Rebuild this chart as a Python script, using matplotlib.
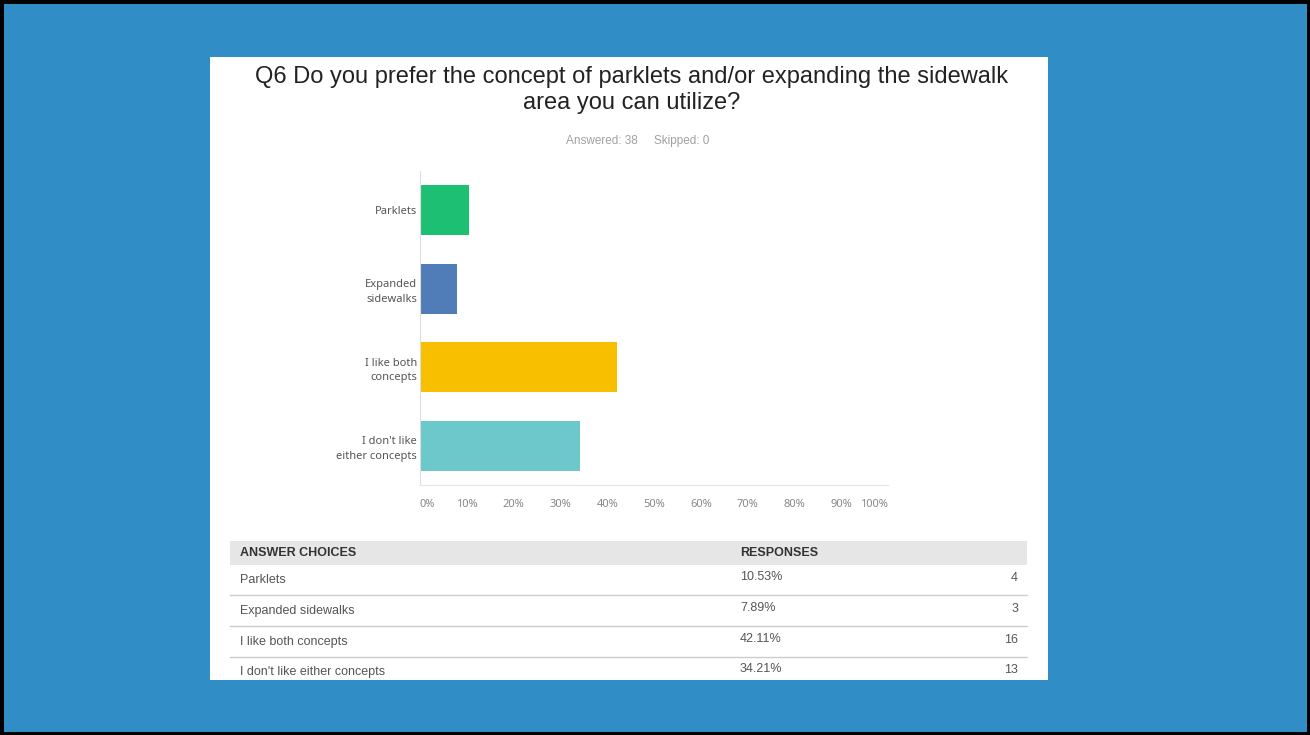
import matplotlib
matplotlib.use('Agg')
import matplotlib.pyplot as plt
from matplotlib.patches import Rectangle
from matplotlib.lines import Line2D

categories = ['Parklets', 'Expanded\nsidewalks', 'I like both\nconcepts', "I don't like\neither concepts"]
table_names = ['Parklets', 'Expanded sidewalks', 'I like both concepts', "I don't like either concepts"]
percents = [10.53, 7.89, 42.11, 34.21]
counts = [4, 3, 16, 13]
colors = ['#1DBF73', '#507CB8', '#F8BF00', '#6CC8CB']
xticks = [0, 10, 20, 30, 40, 50, 60, 70, 80, 90, 100]

W, H = 1310, 735
fig = plt.figure(figsize=(W / 100, H / 100), dpi=100)
fig.patch.set_facecolor('#318DC6')

def px(x, y):
    # pixel (top-left origin) -> figure fraction
    return x / W, 1 - y / H

# black slide border
fig.patches.append(Rectangle((0, 0), 1, 1, transform=fig.transFigure,
                             fill=False, edgecolor='black', linewidth=5, zorder=0))
# white screenshot panel
x0, y0 = px(210, 680)
fig.patches.append(Rectangle((x0, y0), 838 / W, 623 / H, transform=fig.transFigure,
                             facecolor='white', edgecolor='none', zorder=0))

sans = ['Liberation Sans', 'DejaVu Sans']
chartfont = ['Noto Sans', 'DejaVu Sans']

fig.text(*px(632, 90), 'Q6 Do you prefer the concept of parklets and/or expanding the sidewalk\narea you can utilize?',
         ha='center', va='center', fontsize=17, family=sans, color='#222222', linespacing=1.25)
fig.text(*px(638, 141), 'Answered: 38     Skipped: 0', ha='center', va='center',
         fontsize=8.5, family=sans, color='#a0a0a0')

# bar chart
l, b = px(420, 485)
ax = fig.add_axes([l, b, 468 / W, 314 / H])
ax.set_zorder(3)
ax.set_facecolor('white')
ypos = list(range(len(categories)))
ax.barh(ypos, percents, height=0.64, color=colors)
ax.set_xlim(0, 100)
ax.set_ylim(3.5, -0.5)
ax.set_yticks(ypos)
ax.set_yticklabels(categories, fontsize=8, color='#555555', family=chartfont, linespacing=1.45)
ax.set_xticks(xticks)
ax.set_xticklabels([f'{t}%' for t in xticks], fontsize=8, color='#888888', family=chartfont)
xl = ax.get_xticklabels()
xl[0].set_ha('left')
xl[-1].set_ha('right')
ax.tick_params(length=0, pad=10, axis='x')
ax.tick_params(length=0, pad=2, axis='y')
for s in ['top', 'right']:
    ax.spines[s].set_visible(False)
ax.spines['left'].set_color('#dddddd')
ax.spines['bottom'].set_color('#e4e4e4')

# table below
hx, hy = px(230, 565)
fig.patches.append(Rectangle((hx, hy), 797 / W, 24 / H, transform=fig.transFigure,
                             facecolor='#e6e6e6', edgecolor='none', zorder=1))
fig.text(*px(240, 553), 'ANSWER CHOICES', ha='left', va='center', fontsize=9,
         family=sans, color='#333333', weight='bold')
fig.text(*px(740, 553), 'RESPONSES', ha='left', va='center', fontsize=9,
         family=sans, color='#333333', weight='bold')

row_y = [580, 611, 642, 672]
for i, (name, p, c) in enumerate(zip(table_names, percents, counts)):
    y = row_y[i]
    fig.text(*px(240, y), name, ha='left', va='center', fontsize=9, family=sans, color='#555555')
    fig.text(*px(740, y - 3), f'{p:.2f}%', ha='left', va='center', fontsize=9, family=sans, color='#555555')
    fig.text(*px(1018, y - 2), str(c), ha='right', va='center', fontsize=9, family=sans, color='#555555')
    if i < len(table_names) - 1:
        lx1, ly = px(230, y + 15)
        lx2, _ = px(1027, y + 15)
        fig.lines.append(Line2D([lx1, lx2], [ly, ly], transform=fig.transFigure,
                                color='#cccccc', linewidth=1))

fig.savefig('out.png', dpi=100, facecolor=fig.get_facecolor())
